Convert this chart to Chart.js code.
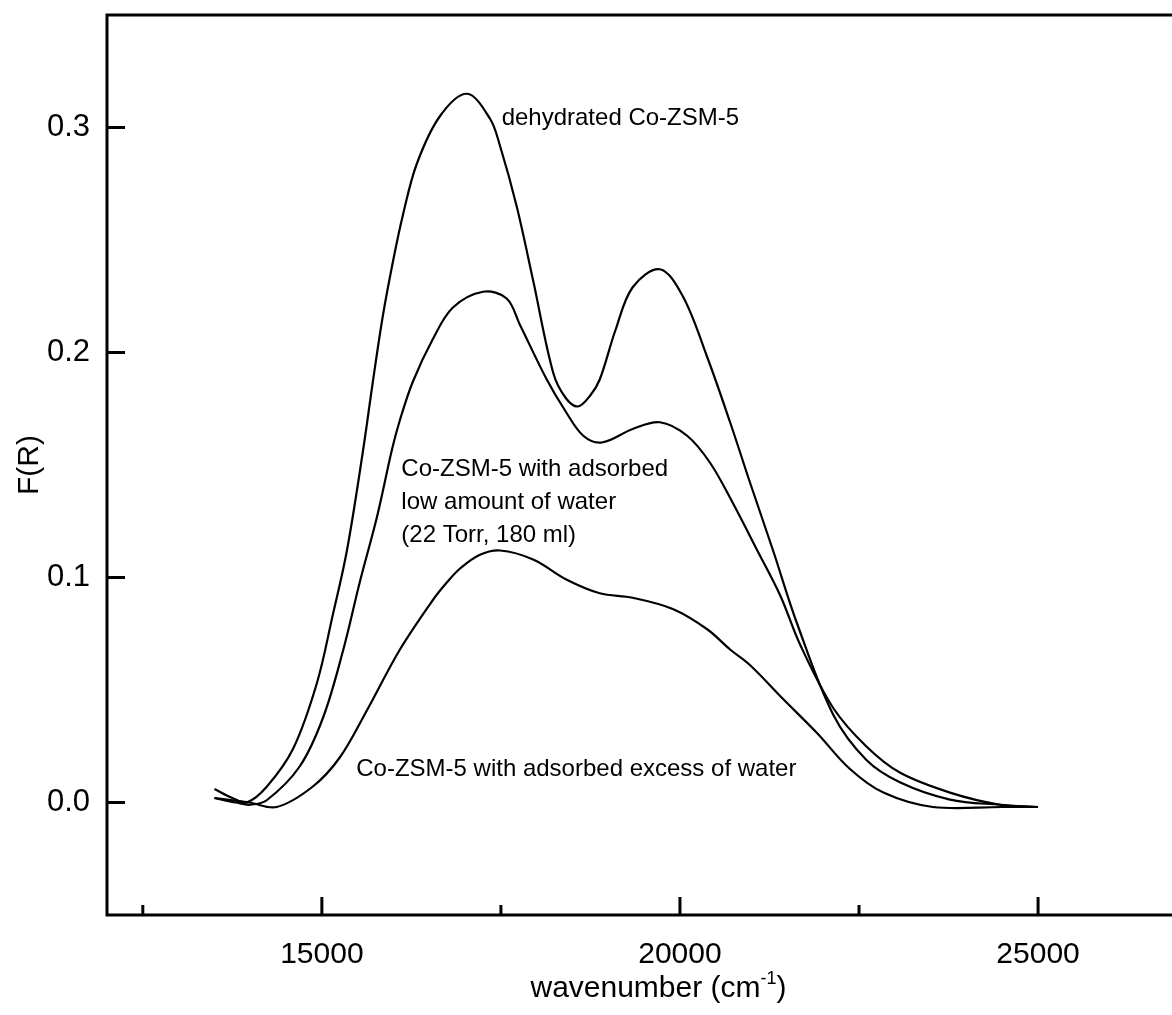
<!DOCTYPE html>
<html>
<head>
<meta charset="utf-8">
<script src="https://cdn.jsdelivr.net/npm/chart.js@4"></script>
<style>
  html, body { margin: 0; padding: 0; background: #fff; overflow: hidden; }
  canvas { display: block; }
</style>
</head>
<body>
<canvas id="spectra" width="1172" height="1015"></canvas>
<script>
// wavenumber (cm-1) and F(R)
const dehydratedX = [13500, 13750, 13950, 14230, 14600, 14930, 15150, 15350, 15573, 15712, 15850, 15990, 16131, 16327, 16648, 17025, 17346, 17486, 17720, 17950, 18230, 18400, 18575, 18750, 18880, 19100, 19340, 19720, 20040, 20380, 20700, 20980, 21300, 21630, 22140, 22600, 23070, 23770, 24470, 25000];
const dehydratedF = [0.006, 0.002, 0.000, 0.007, 0.024, 0.053, 0.083, 0.112, 0.156, 0.187, 0.216, 0.240, 0.261, 0.284, 0.305, 0.315, 0.304, 0.292, 0.265, 0.232, 0.191, 0.180, 0.176, 0.181, 0.188, 0.210, 0.229, 0.237, 0.225, 0.198, 0.169, 0.142, 0.112, 0.080, 0.039, 0.019, 0.009, 0.0013, -0.001, -0.002];

const lowWaterX = [13500, 13800, 14000, 14230, 14690, 15020, 15300, 15530, 15770, 15980, 16090, 16270, 16550, 16830, 17250, 17580, 17770, 18140, 18400, 18650, 18910, 19340, 19720, 20100, 20420, 20740, 21080, 21400, 21680, 22140, 22600, 23070, 23770, 24470, 25000];
const lowWaterF = [0.002, 0.000, -0.001, 0.001, 0.016, 0.038, 0.068, 0.098, 0.127, 0.157, 0.170, 0.187, 0.206, 0.220, 0.227, 0.224, 0.212, 0.188, 0.174, 0.163, 0.160, 0.166, 0.169, 0.163, 0.151, 0.133, 0.112, 0.092, 0.070, 0.042, 0.025, 0.0133, 0.0044, -0.001, -0.002];

const excessWaterX = [13500, 13750, 13990, 14370, 14870, 15250, 15630, 16090, 16550, 16750, 16930, 17200, 17490, 17950, 18420, 18880, 19340, 19900, 20380, 20700, 20980, 21440, 21910, 22370, 22840, 23530, 24500, 25000];
const excessWaterF = [0.002, 0.001, 0.000, -0.002, 0.007, 0.020, 0.041, 0.068, 0.090, 0.098, 0.104, 0.110, 0.112, 0.108, 0.099, 0.093, 0.091, 0.086, 0.077, 0.068, 0.061, 0.046, 0.031, 0.015, 0.0044, -0.002, -0.002, -0.002];

const xTicks = [15000, 20000, 25000];
const xMinorTicks = [12500, 17500, 22500];
const yTicks = [0.0, 0.1, 0.2, 0.3];

// curve labels, anchored in data units (left edge, middle of first line)
const notes = [
  { x: 17510, y: 0.304, lines: ["dehydrated Co-ZSM-5"] },
  { x: 16110, y: 0.148, lines: ["Co-ZSM-5 with adsorbed", "low amount of water", "(22 Torr, 180 ml)"] },
  { x: 15480, y: 0.0147, lines: ["Co-ZSM-5 with adsorbed excess of water"] }
];

function toPoints(xs, ys) {
  return xs.map((x, i) => ({ x: x, y: ys[i] }));
}

const FONT = "'Liberation Sans', Arial, sans-serif";

// axes frame, inward ticks, titles and curve notes
const framePlugin = {
  id: "frame",
  afterDraw(chart) {
    const ctx = chart.ctx;
    const xs = chart.scales.x, ys = chart.scales.y;
    const a = chart.chartArea;
    ctx.save();
    ctx.strokeStyle = "#000";
    ctx.lineCap = "square";

    // left, bottom and top lines
    ctx.lineWidth = 3;
    ctx.beginPath();
    ctx.moveTo(a.left, a.top);
    ctx.lineTo(a.left, a.bottom);
    ctx.lineTo(a.right + 5, a.bottom);
    ctx.moveTo(a.left, a.top);
    ctx.lineTo(a.right + 5, a.top);
    ctx.stroke();

    ctx.lineCap = "butt";
    ctx.beginPath();
    yTicks.forEach(v => {
      const py = ys.getPixelForValue(v);
      ctx.moveTo(a.left, py);
      ctx.lineTo(a.left + 18, py);
    });
    xTicks.forEach(v => {
      const px = xs.getPixelForValue(v);
      ctx.moveTo(px, a.bottom);
      ctx.lineTo(px, a.bottom - 18);
    });
    xMinorTicks.forEach(v => {
      const px = xs.getPixelForValue(v);
      ctx.moveTo(px, a.bottom);
      ctx.lineTo(px, a.bottom - 10);
    });
    ctx.stroke();

    // curve notes
    ctx.fillStyle = "#000";
    ctx.font = "24px " + FONT;
    ctx.textAlign = "left";
    ctx.textBaseline = "middle";
    notes.forEach(n => {
      const px = xs.getPixelForValue(n.x);
      const py = ys.getPixelForValue(n.y);
      n.lines.forEach((t, i) => ctx.fillText(t, px, py + i * 33));
    });

    // x title with superscript
    ctx.textBaseline = "alphabetic";
    const main = "wavenumber (cm";
    const sup = "-1";
    const tail = ")";
    ctx.font = "30px " + FONT;
    const wMain = ctx.measureText(main).width;
    const wTail = ctx.measureText(tail).width;
    ctx.font = "18px " + FONT;
    const wSup = ctx.measureText(sup).width;
    const total = wMain + wSup + wTail;
    const tx = (a.left + a.right) / 2 + 19 - total / 2;
    const ty = 997;
    ctx.font = "30px " + FONT;
    ctx.fillText(main, tx, ty);
    ctx.font = "18px " + FONT;
    ctx.fillText(sup, tx + wMain, ty - 13);
    ctx.font = "30px " + FONT;
    ctx.fillText(tail, tx + wMain + wSup, ty);

    // y title
    ctx.translate(30, (a.top + a.bottom) / 2);
    ctx.rotate(-Math.PI / 2);
    ctx.textAlign = "center";
    ctx.textBaseline = "middle";
    ctx.font = "30px " + FONT;
    ctx.fillText("F(R)", 0, 0);
    ctx.restore();
  }
};

function lineSet(label, xs, ys) {
  return {
    label: label,
    data: toPoints(xs, ys),
    borderColor: "#000",
    borderWidth: 2.2,
    pointRadius: 0,
    fill: false,
    tension: 0.35
  };
}

new Chart(document.getElementById("spectra").getContext("2d"), {
  type: "line",
  data: {
    datasets: [
      lineSet("dehydrated Co-ZSM-5", dehydratedX, dehydratedF),
      lineSet("low amount of water", lowWaterX, lowWaterF),
      lineSet("excess of water", excessWaterX, excessWaterF)
    ]
  },
  options: {
    responsive: false,
    animation: false,
    devicePixelRatio: 1,
    layout: { padding: { top: 15, right: 0, left: 0, bottom: 0 } },
    plugins: {
      legend: { display: false },
      tooltip: { enabled: false }
    },
    scales: {
      x: {
        type: "linear",
        min: 12000,
        max: 26870,
        afterBuildTicks: s => { s.ticks = xTicks.map(v => ({ value: v })); },
        afterFit: s => { s.height = 100; s.paddingLeft = 0; s.paddingRight = 0; },
        grid: { display: false, drawTicks: false },
        border: { display: false },
        ticks: {
          color: "#000",
          padding: 22,
          font: { family: FONT, size: 30 },
          callback: v => String(v)
        }
      },
      y: {
        min: -0.05,
        max: 0.35,
        afterBuildTicks: s => { s.ticks = yTicks.map(v => ({ value: v })); },
        afterFit: s => { s.width = 107; s.paddingTop = 0; s.paddingBottom = 0; },
        grid: { display: false, drawTicks: false },
        border: { display: false },
        ticks: {
          color: "#000",
          padding: 17,
          font: { family: FONT, size: 31 },
          callback: v => v.toFixed(1)
        }
      }
    }
  },
  plugins: [framePlugin]
});
</script>
</body>
</html>
